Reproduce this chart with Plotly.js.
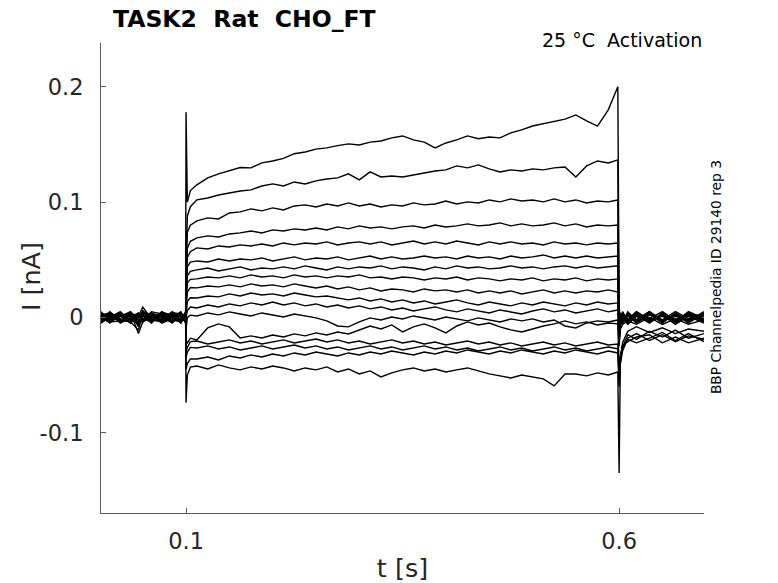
<!DOCTYPE html>
<html>
<head>
<meta charset="utf-8">
<script src="https://cdn.plot.ly/plotly-3.0.1.min.js"></script>
<style>
  html, body { margin: 0; padding: 0; background: #fff; }
  #chart { width: 778px; height: 583px; }
</style>
</head>
<body>
<div id="chart"></div>
<script>
// ── Time base (s): pre-pulse, onset, step, offset, tail ──
const tPre  = [0.002, 0.012, 0.024, 0.036, 0.045, 0.05, 0.06, 0.072, 0.084, 0.094, 0.0995];
const tOn   = [0.1, 0.1015, 0.105];
const tStep = [0.1125, 0.125, 0.1375, 0.15, 0.1625, 0.175, 0.1875, 0.2, 0.2125, 0.225,
               0.2375, 0.25, 0.2625, 0.275, 0.2875, 0.3, 0.3125, 0.325, 0.3375, 0.35,
               0.3625, 0.375, 0.3875, 0.4, 0.4125, 0.425, 0.4375, 0.45, 0.4625, 0.475,
               0.4875, 0.5, 0.5125, 0.525, 0.5375, 0.55, 0.5625, 0.575, 0.5875];
const tOff  = [0.5985];
const tPost = [0.6, 0.6015, 0.604, 0.61, 0.62, 0.635, 0.65, 0.665, 0.68, 0.698];

// ── Current sweeps (nA) ──
const sweep01 = [0.002,-0.003,0.004,-0.002,0.001,0.009,-0.001,0.003,-0.004,0.002,0.000,
  0.178,0.100,0.110,
  0.115,0.121,0.1245,0.127,0.130,0.1297,0.134,0.1357,0.138,0.142,0.1435,0.146,0.147,0.149,0.1505,0.1496,0.152,0.153,0.1557,0.1574,
  0.154,0.152,0.147,0.1513,0.154,0.1574,0.155,0.1565,0.1557,0.160,0.1626,0.166,0.168,0.1704,0.172,0.1756,0.1704,0.166,0.180,
  0.200,
  0.010,-0.006,0.004,-0.002,0.005,-0.003,0.002,-0.004,0.003,0.001];
const sweep02 = [-0.002,0.003,-0.004,0.002,-0.003,0.004,0.001,-0.003,0.003,-0.002,0.001,
  0.05,0.088,0.096,
  0.102,0.1036,0.1062,0.108,0.1097,0.1106,0.114,0.1158,0.114,0.1175,0.1158,0.1184,0.1201,0.121,0.1245,0.1193,0.1262,0.1218,0.1227,0.1218,
  0.1236,0.1253,0.127,0.128,0.1314,0.1297,0.1323,0.1288,0.1262,0.128,0.127,0.1288,0.128,0.1297,0.1305,0.1218,0.1314,0.1357,0.134,
  0.1366,
  -0.010,0.002,-0.004,0.004,-0.002,0.005,-0.003,0.002,-0.004,0.003];
const sweep03 = [0.004,-0.001,0.002,-0.005,0.003,-0.002,0.004,0.000,-0.003,0.004,-0.001,
  0.04,0.074,0.080,
  0.0837,0.0863,0.0854,0.0906,0.0915,0.0941,0.0924,0.095,0.0932,0.0967,0.0976,0.0958,0.0984,0.0967,0.0993,0.0967,0.0984,0.0958,0.0976,0.0967,
  0.0993,0.0976,0.0984,0.101,0.0984,0.1002,0.0993,0.1019,0.1002,0.1028,0.101,0.1019,0.1002,0.1028,0.1002,0.1019,0.0993,0.101,0.1002,
  0.1019,
  -0.012,-0.003,0.005,-0.003,0.003,-0.004,0.004,-0.002,0.003,-0.003];
const sweep04 = [-0.004,0.002,-0.001,0.004,-0.006,0.002,-0.003,0.005,0.001,-0.004,0.002,
  0.03,0.060,0.066,
  0.069,0.0707,0.0698,0.0724,0.0733,0.075,0.0733,0.0759,0.075,0.0768,0.0759,0.0776,0.0759,0.0785,0.0768,0.0794,0.0776,0.0785,0.0768,0.0785,
  0.0794,0.0776,0.0802,0.0785,0.0794,0.0811,0.0794,0.0802,0.082,0.0794,0.0811,0.0794,0.0802,0.082,0.0794,0.0811,0.0785,0.0802,0.0794,
  0.0802,
  -0.014,0.004,-0.002,0.002,-0.005,0.002,-0.002,0.005,-0.001,0.002];
const sweep05 = [0.001,-0.005,0.003,0.001,-0.004,0.006,-0.002,-0.004,0.004,0.001,-0.003,
  0.03,0.052,0.057,
  0.0603,0.0594,0.062,0.0611,0.0629,0.062,0.0637,0.062,0.0646,0.0629,0.0646,0.0637,0.0655,0.0629,0.0646,0.0655,0.0637,0.0655,0.0629,0.0646,
  0.0663,0.0637,0.0655,0.0637,0.0663,0.0646,0.0629,0.0655,0.0637,0.0655,0.0637,0.0646,0.0629,0.0655,0.0637,0.0646,0.0629,0.0646,0.0637,
  0.0646,
  -0.012,-0.005,0.003,-0.004,0.004,-0.001,0.005,-0.003,0.004,-0.002];
const sweep06 = [-0.001,0.004,-0.003,0.003,0.002,-0.004,0.003,0.001,-0.005,0.003,0.002,
  0.02,0.044,0.048,
  0.049,0.0481,0.0507,0.049,0.0507,0.0499,0.0516,0.049,0.0507,0.0525,0.0499,0.0516,0.0507,0.0525,0.0499,0.0516,0.0533,0.0507,0.0525,0.0507,
  0.0516,0.0533,0.0516,0.0525,0.0507,0.0533,0.0516,0.0525,0.0507,0.0533,0.0516,0.0525,0.0542,0.0516,0.0533,0.0516,0.0533,0.0516,0.0525,
  0.0533,
  -0.015,0.001,-0.005,0.005,-0.003,0.004,-0.004,0.003,-0.005,0.004];
const sweep07 = [0.003,0.000,0.005,-0.003,-0.002,0.003,-0.005,0.004,0.002,-0.003,-0.002,
  0.02,0.036,0.040,
  0.0412,0.0429,0.0403,0.0421,0.0438,0.0412,0.0429,0.0421,0.0438,0.0421,0.0447,0.0429,0.0412,0.0438,0.0421,0.0438,0.0429,0.0447,0.0421,0.0438,
  0.0429,0.0412,0.0438,0.0421,0.0447,0.0429,0.0438,0.0421,0.0429,0.0447,0.0429,0.0438,0.0421,0.0438,0.0447,0.0429,0.0447,0.0429,0.0438,
  0.0447,
  -0.016,-0.002,0.002,-0.005,0.002,-0.005,0.003,-0.005,0.002,-0.004];
const sweep08 = [-0.003,0.005,-0.002,-0.001,0.004,-0.003,0.002,-0.002,0.005,0.000,0.003,
  0.01,0.030,0.033,
  0.0334,0.0351,0.0343,0.036,0.0343,0.0369,0.0351,0.036,0.0343,0.0369,0.0351,0.036,0.0343,0.036,0.0351,0.0369,0.0343,0.0351,0.0334,0.0351,
  0.0343,0.0325,0.0343,0.0334,0.0351,0.0325,0.0343,0.0334,0.0317,0.0334,0.0325,0.0343,0.0317,0.0334,0.0325,0.0343,0.0317,0.0334,0.0325,
  0.0334,
  -0.018,0.003,-0.003,0.003,-0.004,0.003,-0.005,0.004,-0.003,0.005];
const sweep09 = [0.000,-0.002,0.001,0.005,-0.003,0.001,0.004,-0.005,-0.001,0.005,-0.004,
  0.01,0.022,0.026,
  0.0256,0.0273,0.0265,0.0282,0.0265,0.0291,0.0273,0.0282,0.0265,0.0291,0.0273,0.0256,0.0273,0.0247,0.0265,0.0239,0.0256,0.023,0.0247,0.0239,
  0.0221,0.0247,0.023,0.0239,0.0221,0.0239,0.0212,0.023,0.0212,0.023,0.0204,0.0221,0.0239,0.0212,0.023,0.0212,0.023,0.0221,0.0239,
  0.0221,
  -0.018,-0.006,0.001,-0.002,0.005,-0.002,0.001,-0.004,0.005,-0.001];
const sweep10 = [0.005,-0.004,-0.003,0.002,0.003,-0.001,-0.004,0.002,0.003,-0.005,0.004,
  0.0,0.014,0.017,
  0.0169,0.0186,0.0178,0.0204,0.0186,0.0212,0.0195,0.0204,0.0186,0.0212,0.0195,0.0178,0.0186,0.0169,0.0152,0.0169,0.0143,0.0161,0.0134,0.0152,
  0.0126,0.0143,0.0117,0.0134,0.0152,0.0126,0.0108,0.0134,0.0117,0.010,0.0126,0.0108,0.0134,0.0117,0.010,0.0126,0.0108,0.0134,0.0117,
  0.0126,
  -0.020,-0.004,-0.005,0.001,-0.002,0.005,-0.003,0.001,-0.002,0.003];
const sweep11 = [-0.005,0.001,0.004,-0.004,0.000,0.005,0.002,-0.001,-0.004,0.002,-0.002,
  0.0,0.006,0.009,
  0.0082,0.0108,0.0091,0.0117,0.010,0.0126,0.0108,0.0134,0.0108,0.0126,0.010,0.0117,0.0091,0.0108,0.0082,0.010,0.0074,0.0091,0.0065,0.0082,
  0.0056,0.0074,0.0091,0.0065,0.0048,0.0074,0.0056,0.0039,0.0065,0.0048,0.003,0.0056,0.0074,0.0048,0.0065,0.0039,0.0056,0.0074,0.0048,
  0.0065,
  -0.022,-0.008,0.000,-0.006,0.001,-0.004,0.002,-0.006,0.001,-0.005];
const sweep12 = [0.002,0.004,-0.005,0.000,-0.005,-0.003,0.005,0.003,0.000,-0.002,0.005,
  -0.01,0.000,0.002,
  0.0013,0.0039,0.0022,0.0048,0.003,0.0013,0.0039,0.0022,0.0004,0.003,0.0013,-0.0004,-0.003,-0.0074,-0.0082,-0.0039,-0.0004,-0.0022,0.0004,-0.0013,
  0.0013,-0.0004,-0.0022,0.0004,-0.0013,-0.003,-0.0004,-0.0022,-0.0039,-0.0013,-0.003,-0.0013,-0.0039,-0.0022,-0.0074,-0.0091,-0.0048,-0.003,-0.0039,
  -0.0022,
  -0.025,-0.010,-0.006,-0.003,-0.006,0.000,-0.006,-0.001,-0.006,-0.002];
const sweep13 = [-0.002,-0.003,0.002,0.003,-0.008,0.002,-0.002,-0.003,0.004,0.003,-0.005,
  -0.02,-0.022,-0.018,
  -0.0195,-0.0091,-0.0056,-0.0082,-0.0178,-0.016,-0.0178,-0.0152,-0.0169,-0.0143,-0.016,-0.0134,-0.0152,-0.0126,-0.0143,-0.0108,-0.0074,-0.010,-0.0065,-0.0126,
  -0.0082,-0.0056,-0.0091,-0.0134,-0.0074,-0.0039,-0.0065,-0.0048,-0.0082,-0.0108,-0.0126,-0.010,-0.0074,-0.0056,-0.003,-0.0056,-0.0039,-0.0065,-0.0048,
  -0.0056,
  -0.045,-0.034,-0.022,-0.012,-0.008,-0.013,-0.009,-0.014,-0.010,-0.012];
const sweep14 = [0.003,0.002,-0.002,-0.004,-0.011,0.004,0.000,0.004,-0.002,-0.004,0.001,
  -0.03,-0.026,-0.021,
  -0.0204,-0.023,-0.0213,-0.0195,-0.0221,-0.0204,-0.023,-0.0213,-0.0195,-0.0221,-0.0204,-0.0187,-0.0213,-0.0195,-0.0221,-0.0204,-0.023,-0.0213,-0.0195,-0.0221,
  -0.0204,-0.023,-0.0213,-0.0239,-0.0221,-0.0204,-0.023,-0.0213,-0.0239,-0.0221,-0.0247,-0.023,-0.0213,-0.0239,-0.0221,-0.0247,-0.023,-0.0213,-0.0239,
  -0.023,
  -0.050,-0.038,-0.026,-0.015,-0.019,-0.012,-0.017,-0.011,-0.018,-0.014];
const sweep15 = [-0.004,-0.001,0.003,0.001,-0.006,-0.002,0.003,-0.004,0.001,0.002,-0.003,
  -0.035,-0.030,-0.026,
  -0.0265,-0.0247,-0.0273,-0.0256,-0.0282,-0.0265,-0.0247,-0.0273,-0.0256,-0.0239,-0.0265,-0.0247,-0.0273,-0.0256,-0.0282,-0.0265,-0.0247,-0.0273,-0.0256,-0.0282,
  -0.0265,-0.0247,-0.0273,-0.0256,-0.0282,-0.0265,-0.0291,-0.0273,-0.0256,-0.0282,-0.0265,-0.0291,-0.0273,-0.0256,-0.0282,-0.0265,-0.0291,-0.0273,-0.0256,
  -0.0273,
  -0.055,-0.040,-0.029,-0.018,-0.014,-0.020,-0.015,-0.021,-0.016,-0.019];
const sweep16 = [0.001,0.003,-0.004,-0.002,0.002,0.001,-0.003,0.002,-0.003,-0.001,0.003,
  -0.045,-0.040,-0.036,
  -0.036,-0.0343,-0.0369,-0.0334,-0.0351,-0.0325,-0.0343,-0.0317,-0.0334,-0.0308,-0.0325,-0.030,-0.0317,-0.0334,-0.0308,-0.0325,-0.030,-0.0317,-0.0291,-0.0308,
  -0.0325,-0.030,-0.0317,-0.0291,-0.0308,-0.0282,-0.030,-0.0317,-0.0291,-0.0308,-0.0282,-0.030,-0.0317,-0.0291,-0.0308,-0.0282,-0.030,-0.0317,-0.0291,
  -0.0308,
  -0.060,-0.036,-0.024,-0.021,-0.017,-0.015,-0.022,-0.017,-0.022,-0.018];
const sweep17 = [-0.001,-0.004,0.001,0.004,-0.014,-0.004,0.001,-0.002,0.002,0.004,-0.001,
  -0.074,-0.050,-0.043,
  -0.0421,-0.0447,-0.0412,-0.0438,-0.0455,-0.0429,-0.0447,-0.0421,-0.0438,-0.0464,-0.0438,-0.0455,-0.0429,-0.0473,-0.0447,-0.049,-0.0464,-0.0516,-0.0481,-0.0455,
  -0.0438,-0.0464,-0.0447,-0.0473,-0.0455,-0.0438,-0.0464,-0.049,-0.0507,-0.0525,-0.0499,-0.0516,-0.0533,-0.0594,-0.049,-0.049,-0.0507,-0.0481,-0.0499,
  -0.0473,
  -0.135,-0.032,-0.027,-0.019,-0.022,-0.018,-0.013,-0.020,-0.014,-0.021];

const sweeps = [sweep01, sweep02, sweep03, sweep04, sweep05, sweep06, sweep07, sweep08, sweep09,
                sweep10, sweep11, sweep12, sweep13, sweep14, sweep15, sweep16, sweep17];

const xTicks = [0.1, 0.6];
const yTicks = [-0.1, 0, 0.1, 0.2];

// ── Plot ──
(function () {
    const t = [].concat(tPre, tOn, tStep, tOff, tPost);
    const traces = sweeps.map((y, i) => ({
        x: t, y: y,
        name: 'sweep ' + (i + 1),
        type: 'scatter', mode: 'lines',
        line: { color: '#000', width: 1.4 },
        hoverinfo: 'skip'
    }));

    const axisFont = { family: 'DejaVu Sans', size: 22.5, color: '#262626' };
    const titleFont = { family: 'DejaVu Sans', size: 25.5, color: '#262626' };
    const axisBase = {
        showgrid: false, zeroline: false,
        showline: true, linecolor: '#5a5a5a', linewidth: 1,
        ticks: 'inside', ticklen: 5, tickcolor: '#5a5a5a', tickwidth: 1,
        tickfont: axisFont
    };

    const layout = {
        width: 778, height: 583,
        margin: { t: 43, r: 74, b: 70, l: 101 },
        showlegend: false,
        paper_bgcolor: '#fff', plot_bgcolor: '#fff',
        font: { family: 'DejaVu Sans', color: '#000' },
        title: {
            text: '<b>TASK2\u00a0 Rat\u00a0 CHO_FT</b>',
            font: { family: 'DejaVu Sans', size: 23.5, color: '#000' },
            xref: 'paper', x: 0.02, xanchor: 'left',
            yref: 'container', y: 0.968, yanchor: 'middle'
        },
        xaxis: Object.assign({}, axisBase, {
            range: [0.0018, 0.698],
            tickvals: xTicks, ticktext: xTicks.map(String),
            ticklabelstandoff: 8,
            title: { text: 't [s]', font: titleFont, standoff: 8 }
        }),
        yaxis: Object.assign({}, axisBase, {
            range: [-0.1696, 0.238],
            tickvals: yTicks, ticktext: yTicks.map(String),
            ticklabelstandoff: 12
        }),
        annotations: [
            {
                text: 'I [nA]',
                xref: 'paper', yref: 'paper', x: -0.116, y: 0.502,
                xanchor: 'center', yanchor: 'middle', textangle: -90, showarrow: false,
                font: titleFont
            },
            {
                text: '25 °C\u00a0 Activation',
                xref: 'paper', yref: 'paper', x: 1, y: 1.0064,
                xanchor: 'right', yanchor: 'middle', showarrow: false,
                font: { family: 'DejaVu Sans', size: 19, color: '#000' }
            },
            {
                text: 'BBP Channelpedia ID 29140 rep 3',
                xref: 'paper', yref: 'paper', x: 1.02, y: 0.502,
                xanchor: 'center', yanchor: 'middle', textangle: -90, showarrow: false,
                font: { family: 'DejaVu Sans', size: 13.8, color: '#000' }
            }
        ]
    };

    Plotly.newPlot('chart', traces, layout, { displayModeBar: false, staticPlot: true });
})();
</script>
</body>
</html>
